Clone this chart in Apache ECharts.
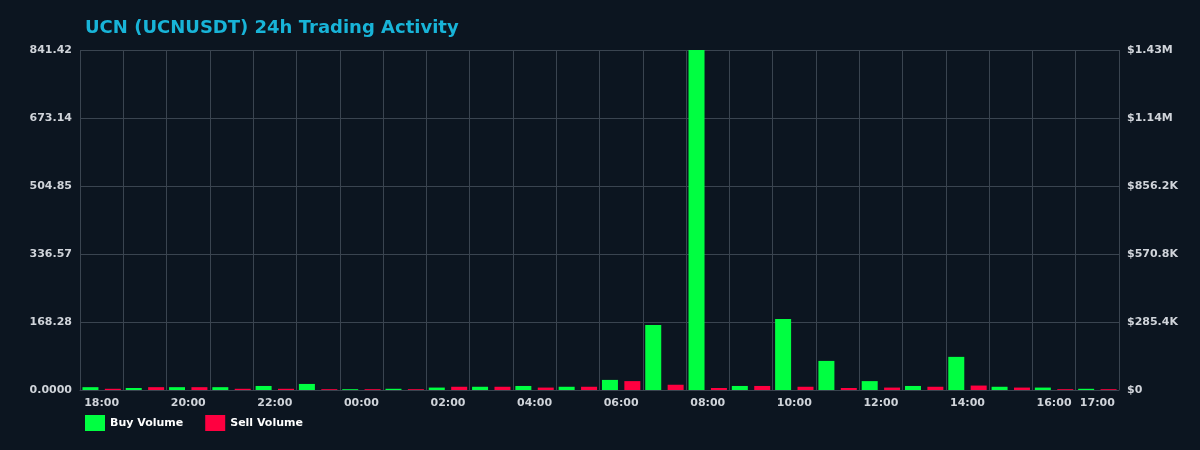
<!DOCTYPE html>
<html><head><meta charset="utf-8">
<script src="https://cdn.jsdelivr.net/npm/echarts@6/dist/echarts.min.js"></script>
<style>html,body{margin:0;background:#0c1520}#c{width:1200px;height:450px}</style>
</head><body><div id="c"></div>
<script>
const categories=['18:00','19:00','20:00','21:00','22:00','23:00','00:00','01:00','02:00','03:00','04:00','05:00','06:00','07:00','08:00','09:00','10:00','11:00','12:00','13:00','14:00','15:00','16:00','17:00'];
const buyVolume=[7,5,7,7,10,15,2,3,6,8,10,8,25,161,841.42,10,176,72,22,10,82,8,6,3];
const sellVolume=[3,7,7,3,3,2,2,2,8,8,6,8,22,13,5,10,8,5,6,8,11,6,2,2];
const leftMax=841.42, rightMax=1427000;
const chart=echarts.init(document.getElementById('c'));
const lab={color:'#d0d4da',fontSize:11,fontWeight:'bold',fontFamily:'DejaVu Sans'};
chart.setOption({
  backgroundColor:'#0c1520',
  animation:false,
  title:{text:'UCN (UCNUSDT) 24h Trading Activity',left:80,top:14,textStyle:{color:'#18b4d8',fontSize:18,fontWeight:'bold',fontFamily:'DejaVu Sans'}},
  legend:{left:80,bottom:14,itemWidth:20,itemHeight:16,itemGap:22,icon:'rect',textStyle:{color:'#ffffff',fontSize:11,fontWeight:'bold',fontFamily:'DejaVu Sans'},data:['Buy Volume','Sell Volume']},
  grid:{left:80,right:81,top:50,bottom:60},
  xAxis:{type:'category',data:categories,boundaryGap:true,
    axisLine:{lineStyle:{color:'#3a4450'}},axisTick:{show:false},
    splitLine:{show:true,interval:0,lineStyle:{color:'#3a4450'}},
    axisLabel:Object.assign({},lab,{interval:0,formatter:(v,i)=>(i%2===0||i===categories.length-1)?v:''})},
  yAxis:[
    {type:'value',min:0,max:leftMax,interval:leftMax/5,axisLine:{show:false},axisTick:{show:false},
     splitLine:{lineStyle:{color:'#3a4450'}},
     axisLabel:Object.assign({},lab,{formatter:v=>v===0?'0.0000':v.toFixed(2)})},
    {type:'value',min:0,max:rightMax,interval:rightMax/5,axisLine:{show:false},axisTick:{show:false},splitLine:{show:false},
     axisLabel:Object.assign({},lab,{formatter:v=>v===0?'$0':(v>=1e6?'$'+(v/1e6).toFixed(2)+'M':'$'+(v/1e3).toFixed(1)+'K')})}
  ],
  series:[
    {name:'Buy Volume',type:'bar',data:buyVolume,barWidth:16,barGap:'40%',itemStyle:{color:'#00ff41'}},
    {name:'Sell Volume',type:'bar',data:sellVolume,barWidth:16,itemStyle:{color:'#ff0040'}}
  ]
});
</script></body></html>
